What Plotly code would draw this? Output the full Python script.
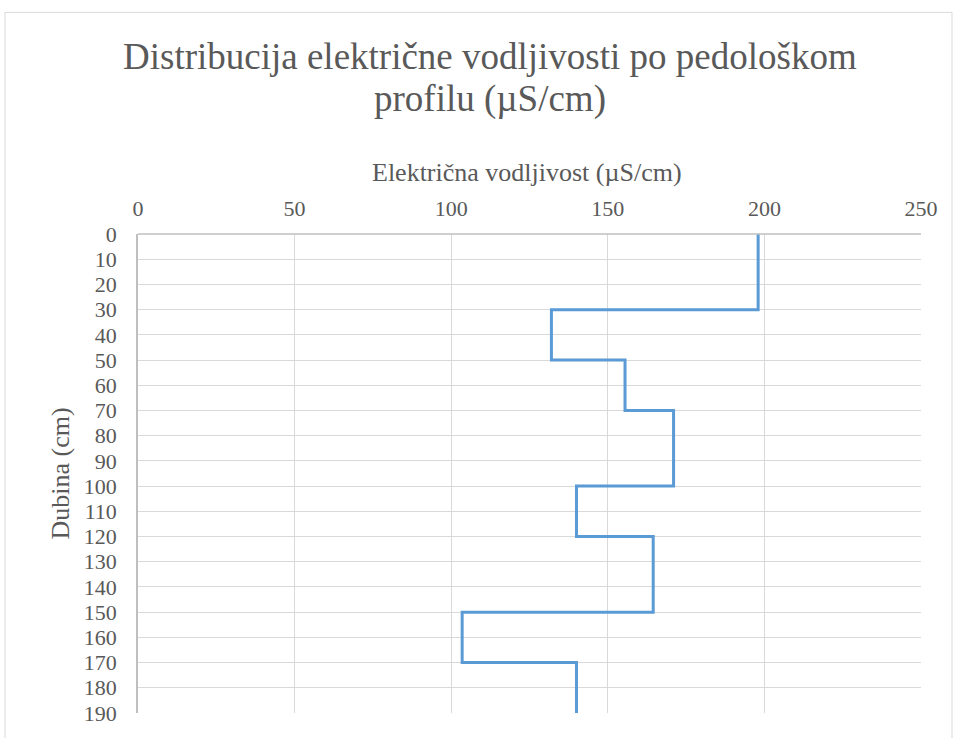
import plotly.graph_objects as go

# Layer tops (cm) and electrical conductivity (µS/cm) of each layer
depth_top = [0, 30, 50, 70, 100, 120, 150, 170, 190]
conductivity = [198, 132, 155.5, 171, 140, 164.5, 103.5, 140, 140]
x_ticks = [0, 50, 100, 150, 200, 250]
y_ticks = list(range(0, 200, 10))

title_line1 = "Distribucija električne vodljivosti po pedološkom"
title_line2 = "profilu (µS/cm)"
x_title = "Električna vodljivost (µS/cm)"
y_title = "Dubina (cm)"

FONT = "Liberation Serif"
TXT = "#595959"

fig = go.Figure()
fig.add_trace(go.Scatter(
    x=conductivity, y=depth_top, mode="lines", line_shape="vh",
    line=dict(color="#5b9bd5", width=3), showlegend=False, hoverinfo="x+y"))

W, H = 955, 738
L, R, T, B = 138, 921, 234, 716
pw, ph = R - L, B - T

def px(x):
    return (x - L) / pw

def py(y):
    return (B - y) / ph

fig.update_layout(
    width=W, height=H,
    margin=dict(l=L, r=W - R, t=T, b=H - B),
    paper_bgcolor="white", plot_bgcolor="white",
    font=dict(family=FONT, color=TXT),
    xaxis=dict(side="top", range=[0, 250], tickvals=x_ticks,
               showgrid=True, gridcolor="#d9d9d9", gridwidth=1,
               zeroline=False, showline=False,
               tickfont=dict(size=22, family=FONT, color=TXT), ticks="",
               ticklabelstandoff=13),
    yaxis=dict(range=[190, 0], tickvals=y_ticks,
               showgrid=True, gridcolor="#d9d9d9", gridwidth=1,
               zeroline=False, showline=True, linecolor="#bfbfbf", linewidth=1.5,
               tickfont=dict(size=22, family=FONT, color=TXT), ticks="",
               ticklabelstandoff=15),
    shapes=[
        dict(type="rect", xref="paper", yref="paper",
             x0=px(5), x1=px(952), y0=py(760), y1=py(11),
             line=dict(color="#d9d9d9", width=1), fillcolor="rgba(0,0,0,0)", layer="below"),
        dict(type="line", xref="paper", yref="paper", x0=0, x1=1, y0=1, y1=1,
             line=dict(color="#bfbfbf", width=1.5)),
    ],
    annotations=[
        dict(text=title_line1, xref="paper", yref="paper", x=px(490), y=py(55),
             xanchor="center", yanchor="middle", showarrow=False,
             font=dict(size=37, family=FONT, color=TXT)),
        dict(text=title_line2, xref="paper", yref="paper", x=px(490), y=py(98),
             xanchor="center", yanchor="middle", showarrow=False,
             font=dict(size=37, family=FONT, color=TXT)),
        dict(text=x_title, xref="paper", yref="paper", x=px(527), y=py(172),
             xanchor="center", yanchor="middle", showarrow=False,
             font=dict(size=26, family=FONT, color=TXT)),
        dict(text=y_title, xref="paper", yref="paper", x=px(60), y=py(475),
             xanchor="center", yanchor="middle", showarrow=False, textangle=-90,
             font=dict(size=26, family=FONT, color=TXT)),
    ],
)

fig.write_html("out.html", config={"displayModeBar": False},
               post_script="document.body.style.margin='0';")
